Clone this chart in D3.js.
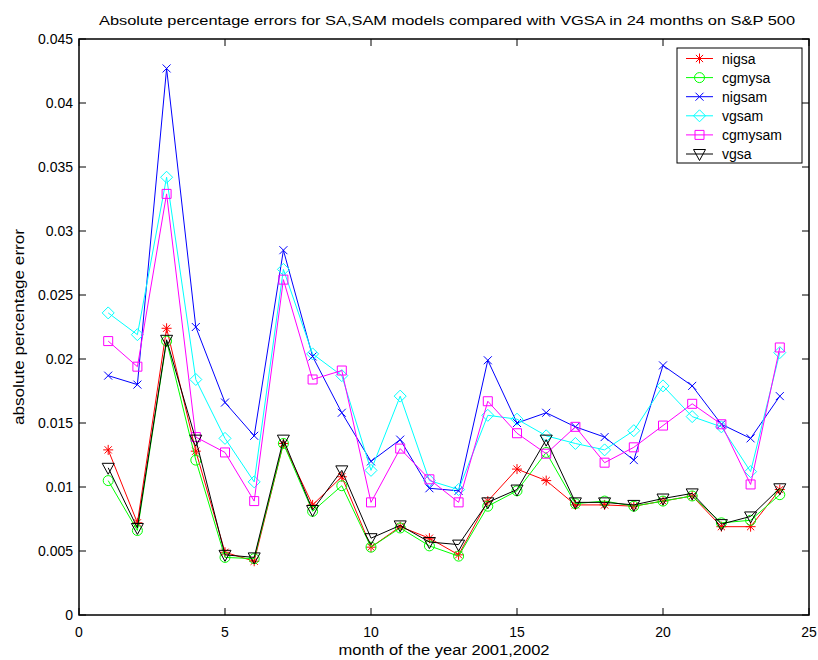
<!DOCTYPE html>
<html><head><meta charset="utf-8">
<script src="https://cdn.jsdelivr.net/npm/d3@7"></script>
<style>body{margin:0;background:#fff}svg{display:block}text{font-family:"Liberation Sans",Arial,sans-serif}</style>
</head><body><svg id="c" width="818" height="660"></svg>
<script>
const months = d3.range(1, 25);
const nigsa   = [0.0129,0.0072,0.0224,0.0128,0.0049,0.0042,0.0134,0.0086,0.0108,0.0053,0.0069,0.0060,0.0047,0.0089,0.0114,0.0105,0.0086,0.0086,0.0085,0.0089,0.0093,0.0069,0.0069,0.0098];
const cgmysa  = [0.0105,0.0066,0.0214,0.0121,0.0045,0.0044,0.0134,0.0081,0.0101,0.0053,0.0068,0.0054,0.0046,0.0085,0.0097,0.0127,0.0087,0.0089,0.0085,0.0089,0.0093,0.0072,0.0074,0.0094];
const nigsam  = [0.0187,0.0180,0.0427,0.0225,0.0166,0.0140,0.0285,0.0202,0.0158,0.0120,0.0137,0.0099,0.0097,0.0199,0.0150,0.0158,0.0147,0.0139,0.0121,0.0195,0.0179,0.0149,0.0138,0.0171];
const vgsam   = [0.0236,0.0219,0.0342,0.0184,0.0138,0.0104,0.0270,0.0204,0.0187,0.0113,0.0171,0.0105,0.0098,0.0156,0.0153,0.0140,0.0134,0.0129,0.0144,0.0179,0.0155,0.0147,0.0112,0.0205];
const cgmysam = [0.0214,0.0194,0.0329,0.0139,0.0127,0.0089,0.0262,0.0184,0.0191,0.0088,0.0130,0.0106,0.0088,0.0167,0.0142,0.0126,0.0147,0.0119,0.0131,0.0148,0.0165,0.0149,0.0102,0.0209];
const vgsa    = [0.0115,0.0068,0.0215,0.0137,0.0047,0.0045,0.0137,0.0082,0.0113,0.0060,0.0070,0.0057,0.0055,0.0088,0.0098,0.0137,0.0088,0.0088,0.0086,0.0091,0.0095,0.0071,0.0077,0.0099];
const seriesNames = ["nigsa","cgmysa","nigsam","vgsam","cgmysam","vgsa"];
const xTicks = [0,5,10,15,20,25];
const yTicks = [0,0.005,0.01,0.015,0.02,0.025,0.03,0.035,0.04,0.045];
const titleText = "Absolute percentage errors for SA,SAM models compared with VGSA in 24 months on S&P 500";
const xLabel = "month of the year 2001,2002";
const yLabel = "absolute percentage error";

const series = [
  {name:"nigsa", values:nigsa, color:"#ff0000", marker:"star"},
  {name:"cgmysa", values:cgmysa, color:"#00ff00", marker:"circle"},
  {name:"nigsam", values:nigsam, color:"#0000ff", marker:"x"},
  {name:"vgsam", values:vgsam, color:"#00ffff", marker:"diamond"},
  {name:"cgmysam", values:cgmysam, color:"#ff00ff", marker:"square"},
  {name:"vgsa", values:vgsa, color:"#000000", marker:"tri"}
];

const L=79, R=809, T=39, B=615;
const svg = d3.select("#c");
const x = d3.scaleLinear().domain([0,25]).range([L,R]);
const y = d3.scaleLinear().domain([0,0.045]).range([B,T]);

function markerPath(m){
  switch(m){
    case "star": return "M-5,0H5M0,-5V5M-3.6,-3.6L3.6,3.6M-3.6,3.6L3.6,-3.6";
    case "circle": return "M5,0A5,5 0 1,1 -5,0A5,5 0 1,1 5,0Z";
    case "x": return "M-4,-4L4,4M-4,4L4,-4";
    case "diamond": return "M0,-6L6,0L0,6L-6,0Z";
    case "square": return "M-4.5,-4.5H4.5V4.5H-4.5Z";
    case "tri": return "M-6,-4.5H6L0,6.5Z";
  }
}

// ticks (inside, all four sides)
const tk = 7;
const g = svg.append("g");
xTicks.forEach(t=>{
  g.append("line").attr("x1",x(t)).attr("x2",x(t)).attr("y1",B).attr("y2",B-tk).attr("stroke","#000");
  g.append("line").attr("x1",x(t)).attr("x2",x(t)).attr("y1",T).attr("y2",T+tk).attr("stroke","#000");
  g.append("text").attr("x",x(t)).attr("y",637).attr("text-anchor","middle").attr("font-size",14).text(t);
});
yTicks.forEach(t=>{
  g.append("line").attr("x1",L).attr("x2",L+tk).attr("y1",y(t)).attr("y2",y(t)).attr("stroke","#000");
  g.append("line").attr("x1",R).attr("x2",R-tk).attr("y1",y(t)).attr("y2",y(t)).attr("stroke","#000");
  g.append("text").attr("x",73).attr("y",y(t)+5).attr("text-anchor","end").attr("font-size",14).text(d3.format("")(t));
});

// series
const line = d3.line().x((d,i)=>x(months[i])).y(d=>y(d));
series.forEach(s=>{
  const sg = svg.append("g");
  sg.append("path").attr("d",line(s.values)).attr("fill","none").attr("stroke",s.color).attr("stroke-width",1);
  sg.selectAll("path.m").data(s.values).enter().append("path").attr("class","m")
    .attr("transform",(d,i)=>`translate(${x(months[i])},${y(d)})`)
    .attr("d",markerPath(s.marker)).attr("fill","none").attr("stroke",s.color).attr("stroke-width",1);
});

// box
svg.append("rect").attr("x",L).attr("y",T).attr("width",R-L).attr("height",B-T)
  .attr("fill","none").attr("stroke","#000").attr("stroke-width",1.5);

// labels
svg.append("text").attr("x",(L+R)/2+3).attr("y",25).attr("text-anchor","middle").attr("font-size",13)
  .attr("textLength",696).attr("lengthAdjust","spacingAndGlyphs").text(titleText);
svg.append("text").attr("x",(L+R)/2).attr("y",655).attr("text-anchor","middle").attr("font-size",14)
  .attr("textLength",211).attr("lengthAdjust","spacingAndGlyphs").text(xLabel);
svg.append("text").attr("transform",`translate(24,${(T+B)/2}) rotate(-90)`).attr("text-anchor","middle").attr("font-size",14)
  .attr("textLength",196).attr("lengthAdjust","spacingAndGlyphs").text(yLabel);

// legend
const lg = svg.append("g");
lg.append("rect").attr("x",677).attr("y",48).attr("width",125).attr("height",115).attr("fill","#fff").attr("stroke","#000").attr("stroke-width",1);
series.forEach((s,i)=>{
  const yy = 58.5 + i*19.1;
  lg.append("line").attr("x1",686).attr("x2",713).attr("y1",yy).attr("y2",yy).attr("stroke",s.color);
  lg.append("path").attr("transform",`translate(699.5,${yy})`).attr("d",markerPath(s.marker)).attr("fill","none").attr("stroke",s.color);
  lg.append("text").attr("x",722).attr("y",yy+5).attr("font-size",14).text(s.name);
});
</script></body></html>
